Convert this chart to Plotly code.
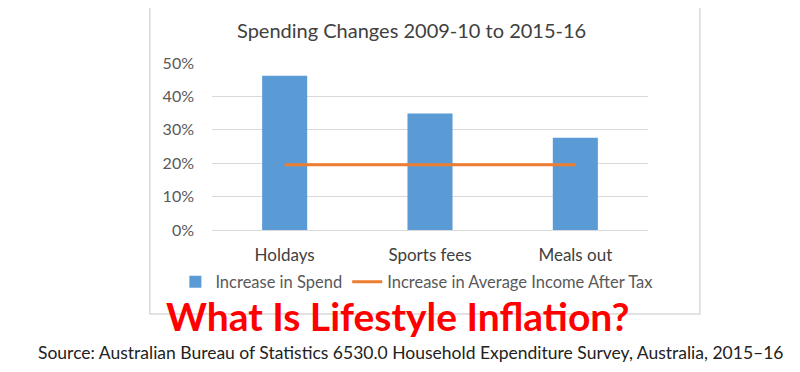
import plotly.graph_objects as go

categories = ["Holdays", "Sports fees", "Meals out"]
spend_increase = [0.462, 0.349, 0.276]
income_increase = [0.195, 0.195, 0.195]
y_ticks = [0, 0.1, 0.2, 0.3, 0.4, 0.5]
y_tick_labels = ["0%", "10%", "20%", "30%", "40%", "50%"]

FONT = "Lato, Open Sans, sans-serif"

fig = go.Figure()
fig.add_trace(go.Bar(
    x=categories, y=spend_increase, name="Increase in Spend",
    marker=dict(color="#5b9bd5", line=dict(width=0)), width=0.31,
))
fig.add_trace(go.Scatter(
    x=categories, y=income_increase, name="Increase in Average Income After Tax",
    mode="lines", line=dict(color="#ed7d31", width=3),
))

# page body has an 8px offset, so the figure is 792x364
fig.update_layout(
    width=792, height=364,
    margin=dict(l=204, r=152, t=55, b=142),
    paper_bgcolor="white", plot_bgcolor="white",
    font=dict(family=FONT, color="#595959"),
    showlegend=True,
    legend=dict(orientation="h", x=-0.084, xanchor="left", y=-0.312, yanchor="middle",
                font=dict(size=16.5, color="#595959"), itemwidth=30,
                bgcolor="rgba(0,0,0,0)"),
    xaxis=dict(showgrid=False, showline=True, linecolor="#d9d9d9", linewidth=1,
               ticks="", ticklabelstandoff=10,
               tickfont=dict(size=17, color="#404040"), fixedrange=True),
    yaxis=dict(range=[0, 0.5], tickvals=y_ticks, ticktext=y_tick_labels,
               showgrid=True, gridcolor="#d9d9d9", gridwidth=1, zeroline=False,
               showline=False, ticks="", ticklabelstandoff=17,
               tickfont=dict(size=16, color="#595959"), fixedrange=True),
    shapes=[dict(type="rect", xref="paper", yref="paper",
                 x0=-0.1425, x1=1.119, y0=-0.503, y1=1.359,
                 line=dict(color="#d9d9d9", width=1.5), layer="below")],
    annotations=[
        dict(text="Spending Changes 2009-10 to 2015-16", xref="paper", yref="paper",
             x=0.458, y=1.198, xanchor="center", yanchor="middle", showarrow=False,
             font=dict(family=FONT, size=20, color="#404040")),
        dict(text="<b>What Is Lifestyle Inflation?</b>", xref="paper", yref="paper",
             x=0.425, y=-0.515, xanchor="center", yanchor="middle", showarrow=False,
             font=dict(family="Lato, Roboto, sans-serif", size=39, color="#ff0000")),
        dict(text="Source: Australian Bureau of Statistics 6530.0 Household Expenditure Survey, Australia, 2015\u201316",
             xref="paper", yref="paper", x=0.455, y=-0.735, xanchor="center", yanchor="middle",
             showarrow=False, font=dict(family=FONT, size=17.5, color="#222222")),
    ],
)

fig.write_html("out.html")
